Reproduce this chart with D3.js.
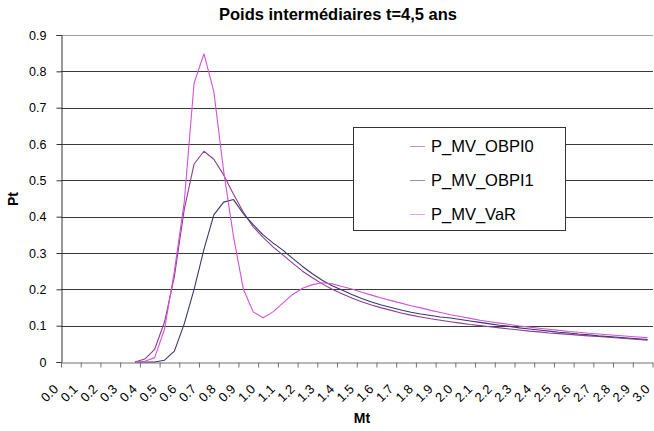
<!DOCTYPE html>
<html>
<head>
<meta charset="utf-8">
<script src="https://cdn.jsdelivr.net/npm/d3@7"></script>
<style>
	body { margin: 0; background: #fff; }
	text { font-family: Arial, "Liberation Sans", sans-serif; fill: #000; }
	.line { fill: none; stroke-width: 1.1; stroke-linejoin: round; }
	.grid line { stroke: #3a3a3a; }
</style>
</head>
<body>
<svg></svg>
<script>
// x positions of the plotted points (Mt, category centres)
const mt = [0.375, 0.425, 0.475, 0.525, 0.575, 0.625, 0.675, 0.725, 0.775, 0.825,
	0.875, 0.925, 0.975, 1.025, 1.075, 1.125, 1.175, 1.225, 1.275, 1.325,
	1.375, 1.425, 1.475, 1.525, 1.575, 1.625, 1.675, 1.725, 1.775, 1.825,
	1.875, 1.925, 1.975, 2.025, 2.075, 2.125, 2.175, 2.225, 2.275, 2.325,
	2.375, 2.425, 2.475, 2.525, 2.575, 2.625, 2.675, 2.725, 2.775, 2.825,
	2.875, 2.925, 2.975]

const obpi0 = [0, 0.008, 0.035, 0.11, 0.235, 0.42, 0.545, 0.58, 0.558, 0.515,
	0.462, 0.412, 0.372, 0.343, 0.317, 0.295, 0.272, 0.25, 0.232, 0.215,
	0.2, 0.188, 0.176, 0.166, 0.157, 0.149, 0.142, 0.135, 0.129, 0.124,
	0.119, 0.115, 0.111, 0.107, 0.103, 0.1, 0.097, 0.094, 0.091, 0.088,
	0.085, 0.083, 0.08, 0.078, 0.076, 0.074, 0.072, 0.07, 0.068, 0.066,
	0.064, 0.062, 0.06]

const obpi1 = [0, 0, 0, 0.005, 0.03, 0.105, 0.2, 0.31, 0.405, 0.44,
	0.447, 0.408, 0.378, 0.35, 0.328, 0.308, 0.285, 0.263, 0.243, 0.225,
	0.21, 0.198, 0.186, 0.175, 0.165, 0.157, 0.15, 0.143, 0.137, 0.132,
	0.128, 0.124, 0.121, 0.117, 0.113, 0.109, 0.105, 0.101, 0.098, 0.094,
	0.091, 0.088, 0.085, 0.082, 0.08, 0.077, 0.075, 0.072, 0.07, 0.068,
	0.066, 0.064, 0.062]

const vaR = [0, 0.002, 0.012, 0.09, 0.25, 0.44, 0.768, 0.848, 0.745, 0.525,
	0.345, 0.2, 0.138, 0.122, 0.138, 0.162, 0.186, 0.203, 0.213, 0.218,
	0.215, 0.208, 0.201, 0.192, 0.184, 0.176, 0.169, 0.162, 0.155, 0.149,
	0.142, 0.136, 0.13, 0.125, 0.12, 0.115, 0.111, 0.107, 0.103, 0.099,
	0.096, 0.093, 0.09, 0.087, 0.084, 0.082, 0.079, 0.077, 0.075, 0.073,
	0.071, 0.069, 0.067]

const xTicks = ['0.0', '0.1', '0.2', '0.3', '0.4', '0.5', '0.6', '0.7', '0.8', '0.9',
	'1.0', '1.1', '1.2', '1.3', '1.4', '1.5', '1.6', '1.7', '1.8', '1.9',
	'2.0', '2.1', '2.2', '2.3', '2.4', '2.5', '2.6', '2.7', '2.8', '2.9', '3.0']
const yTicks = [0, 0.1, 0.2, 0.3, 0.4, 0.5, 0.6, 0.7, 0.8, 0.9]

const series = [
	{name: 'P_MV_OBPI0', values: obpi0, color: '#8e3d8e'},
	{name: 'P_MV_OBPI1', values: obpi1, color: '#38386e'},
	{name: 'P_MV_VaR', values: vaR, color: '#d452d4'},
]

const W = 654, H = 431
const margin = {top: 35, right: 1, bottom: 69, left: 61},
	width = W - margin.left - margin.right,
	height = H - margin.top - margin.bottom;

const x = d3.scaleLinear().domain([0, 3]).range([0, width - 0.5])
const y = d3.scaleLinear().domain([0, 0.9]).range([height, 0])

const root = d3.select('svg').attr('width', W).attr('height', H)

root.append('text')
	.attr('x', 338)
	.attr('y', 20)
	.attr('text-anchor', 'middle')
	.style('font-weight', 'bold')
	.style('font-size', '16.5px')
	.text('Poids intermédiaires t=4,5 ans')

const svg = root.append('g')
	.attr('transform', `translate(${margin.left},${margin.top})`)

// horizontal grid
svg.append('g')
	.attr('class', 'grid')
	.selectAll('line')
	.data(yTicks.slice(1))
	.join('line')
	.attr('x1', 0).attr('x2', width)
	.attr('y1', d => Math.round(y(d)) + 0.5)
	.attr('y2', d => Math.round(y(d)) + 0.5)
	.style('stroke', d => d === 0.9 ? '#a0a0a0' : null)

// Y axis
const yAxis = svg.append('g')
	.attr('transform', 'translate(0.5,0)')
	.call(d3.axisLeft(y).tickValues(yTicks).tickFormat(d => d === 0 ? '0' : d3.format('.1f')(d)).tickSize(5).tickPadding(10))
yAxis.select('.domain').attr('stroke', '#333')
yAxis.selectAll('.tick line').attr('stroke', '#333')
yAxis.selectAll('.tick text')
	.style('font-size', '12.5px')
	.attr('fill', '#000')

// X axis
const xAxis = svg.append('g')
	.attr('transform', `translate(0,${Math.round(height) + 0.5})`)
	.call(d3.axisBottom(x).tickValues(d3.range(xTicks.length).map(i => i / 10)).tickFormat('').tickSize(5).tickSizeOuter(0))
xAxis.select('.domain').attr('stroke', '#707070')
xAxis.selectAll('.tick line').attr('stroke', '#707070')

svg.append('g')
	.selectAll('text')
	.data(xTicks)
	.join('text')
	.attr('transform', d => `translate(${x(+d) - 2},${height + 28}) rotate(-45)`)
	.attr('text-anchor', 'end')
	.style('font-size', '13px')
	.text(d => d)

// curves
const line = d3.line()
	.x((d, i) => x(mt[i]))
	.y(d => y(d))

series.forEach(s => {
	svg.append('path')
		.datum(s.values)
		.attr('class', 'line')
		.attr('stroke', s.color)
		.attr('d', line)
})

// axis titles
root.append('text')
	.attr('x', 362)
	.attr('y', 423)
	.attr('text-anchor', 'middle')
	.style('font-weight', 'bold')
	.style('font-size', '14px')
	.text('Mt')

root.append('text')
	.attr('transform', 'translate(18,199) rotate(-90)')
	.attr('text-anchor', 'middle')
	.style('font-weight', 'bold')
	.style('font-size', '14px')
	.text('Pt')

// legend
const lg = root.append('g').attr('transform', 'translate(353,127)')
lg.append('rect')
	.attr('x', 0.5).attr('y', 0.5)
	.attr('width', 212).attr('height', 103)
	.attr('fill', '#fff')
	.attr('stroke', '#333')

series.forEach((s, i) => {
	const row = lg.append('g').attr('transform', `translate(0,${19 + i * 34})`)
	row.append('line')
		.attr('x1', 57).attr('x2', 72)
		.attr('y1', 0.5).attr('y2', 0.5)
		.attr('stroke', s.color)
		.attr('stroke-opacity', 0.55)
	row.append('text')
		.attr('x', 78)
		.attr('y', 6)
		.style('font-size', '16.5px')
		.text(s.name)
})
</script>
</body>
</html>
